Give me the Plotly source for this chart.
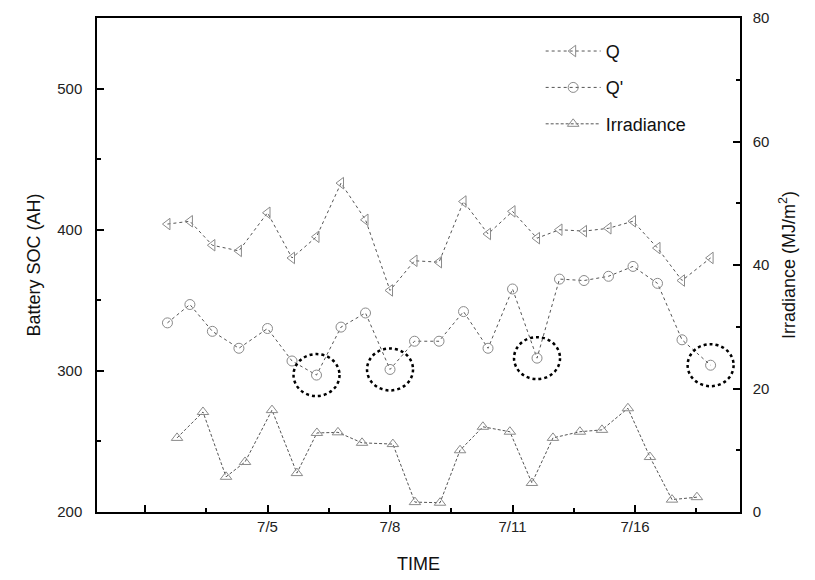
import plotly.graph_objects as go

# time index: 7/5 -> 6, 7/8 -> 12, 7/11 -> 18, 7/16 -> 24 (as on the original axis)
t_q = [1.1, 2.2, 3.3, 4.6, 6.0, 7.2, 8.4, 9.6, 10.8, 12.0, 13.2, 14.4,
       15.6, 16.8, 18.0, 19.2, 20.3, 21.5, 22.7, 23.9, 25.1, 26.3, 27.7]
q_vals = [404, 406, 389, 385, 412, 380, 395, 433, 407, 357, 378, 377,
          420, 397, 413, 394, 400, 399, 401, 406, 387, 364, 380]
qp_vals = [334, 347, 328, 316, 330, 307, 297, 331, 341, 301, 321, 321,
           342, 316, 358, 309, 365, 364, 367, 374, 362, 322, 304]
t_irr = [1.57, 2.84, 3.97, 4.9, 6.22, 7.44, 8.42, 9.45, 10.63, 12.14, 13.22, 14.45,
         15.43, 16.55, 17.87, 18.95, 19.98, 21.3, 22.38, 23.65, 24.73, 25.81, 27.03]
irr_vals = [12.0, 16.2, 5.7, 8.1, 16.5, 6.3, 12.8, 12.9, 11.2, 11.0, 1.6, 1.5,
            10.0, 13.8, 13.0, 4.7, 12.0, 13.0, 13.3, 16.8, 8.9, 2.0, 2.4]
highlight_idx = [6, 9, 15, 22]

x_tickvals = [0, 6, 12, 18, 24]
x_ticktext = [" ", "7/5", "7/8", "7/11", "7/16"]

FONT = "Liberation Sans, Arial, sans-serif"
line_col = "#555555"
mk_col = "#8a8a8a"

fig = go.Figure()
fig.add_trace(go.Scatter(
    x=t_q, y=q_vals, name="Q", mode="lines+markers", legendgroup="a",
    line=dict(color=line_col, width=1, dash="dot"),
    marker=dict(symbol="triangle-left-open", size=10, color=mk_col, line=dict(width=1, color=mk_col))))
fig.add_trace(go.Scatter(
    x=t_q, y=qp_vals, name="Q'", mode="lines+markers", legendgroup="b",
    line=dict(color=line_col, width=1, dash="dot"),
    marker=dict(symbol="circle-open", size=10, color=mk_col, line=dict(width=1, color=mk_col))))
fig.add_trace(go.Scatter(
    x=t_irr, y=irr_vals, name="Irradiance", mode="lines+markers", legendgroup="c", yaxis="y2",
    line=dict(color=line_col, width=1, dash="3px,2px"),
    marker=dict(symbol="triangle-up-open", size=10, color=mk_col, line=dict(width=1, color=mk_col))))

for i in highlight_idx:
    fig.add_shape(type="circle", xref="x", yref="y", xsizemode="pixel", ysizemode="pixel",
                  xanchor=t_q[i], yanchor=qp_vals[i], x0=-23, x1=23, y0=-21, y1=21,
                  line=dict(color="black", width=2.5, dash="dot"))

axis_common = dict(showline=True, linecolor="black", linewidth=1.5, ticks="inside",
                   tickcolor="black", ticklen=7, tickwidth=1.5, showgrid=False, zeroline=False,
                   automargin=False,
                   tickfont=dict(family=FONT, size=15, color="#222"))

fig.update_layout(
    width=815, height=580,
    margin=dict(l=97, r=75, t=18, b=68),
    paper_bgcolor="white", plot_bgcolor="white",
    font=dict(family=FONT, color="#111"),
    xaxis=dict(range=[-2.35, 29.14], tickvals=x_tickvals, ticktext=x_ticktext, mirror=True,
               minor=dict(dtick=3, tick0=0, ticks="inside", ticklen=4, tickcolor="black"),
               title=dict(text="TIME", font=dict(family=FONT, size=18), standoff=24),
               **axis_common),
    yaxis=dict(range=[200, 550], tickvals=[200, 300, 400, 500],
               minor=dict(dtick=50, tick0=200, ticks="inside", ticklen=4, tickcolor="black"),
               title=dict(text="Battery SOC (AH)", font=dict(family=FONT, size=18), standoff=12),
               ticklabelstandoff=10,
               **axis_common),
    yaxis2=dict(range=[0, 80], tickvals=[0, 20, 40, 60, 80], overlaying="y", side="right",
                minor=dict(dtick=10, tick0=0, ticks="inside", ticklen=4, tickcolor="black"),
                title=dict(text="Irradiance (MJ/m<sup>2</sup>)", font=dict(family=FONT, size=18), standoff=14),
                ticklabelstandoff=8,
                **axis_common),
    legend=dict(x=0.69, y=0.97, xanchor="left", yanchor="top", bgcolor="rgba(0,0,0,0)",
                font=dict(family=FONT, size=18, color="#111"), traceorder="grouped",
                tracegroupgap=10, itemwidth=55),
    showlegend=True,
)

fig.write_html("out.html")
